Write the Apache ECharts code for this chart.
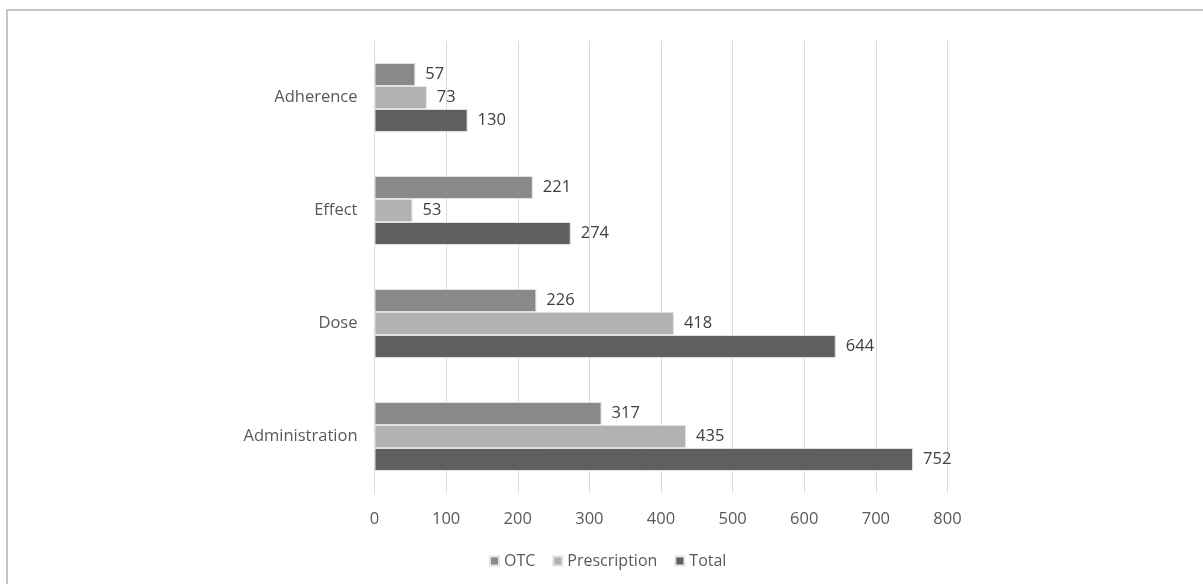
<!DOCTYPE html>
<html>
<head>
<meta charset="utf-8">
<script src="https://cdn.jsdelivr.net/npm/echarts@6/dist/echarts.min.js"></script>
<style>html,body{margin:0;padding:0;background:#fff}#c{width:1203px;height:584px}</style>
</head>
<body>
<div id="c"></div>
<script>
const categories = ['Adherence', 'Effect', 'Dose', 'Administration'];
const otc = [57, 221, 226, 317];
const prescription = [73, 53, 418, 435];
const total = [130, 274, 644, 752];
const xTicks = { min: 0, max: 800, interval: 100 };

const font = 'Open Sans';
const chart = echarts.init(document.getElementById('c'), null, { renderer: 'canvas' });
const label = { show: true, position: 'right', distance: 10, color: '#404040', fontSize: 16.5, fontFamily: font };
const mk = (name, data, color) => ({
  name, type: 'bar', data, barGap: '0%', barCategoryGap: '39%',
  itemStyle: { color, borderColor: '#e2e2e2', borderWidth: 1 },
  label, emphasis: { disabled: true }
});
chart.setOption({
  animation: false,
  textStyle: { fontFamily: font },
  grid: { left: 374.5, right: 255.5, top: 41, bottom: 91, containLabel: false },
  xAxis: {
    type: 'value', min: xTicks.min, max: xTicks.max, interval: xTicks.interval,
    axisLine: { show: false }, axisTick: { show: false },
    splitLine: { show: true, lineStyle: { color: '#d9d9d9', width: 1 } },
    axisLabel: { color: '#595959', fontSize: 16.5, fontFamily: font, margin: 18 }
  },
  yAxis: {
    type: 'category', data: categories, inverse: true,
    axisLine: { show: true, lineStyle: { color: '#d9d9d9' } }, axisTick: { show: false },
    axisLabel: { color: '#595959', fontSize: 16.5, fontFamily: font, margin: 17 }
  },
  legend: {
    data: ['OTC', 'Prescription', 'Total'], top: 548, left: 484,
    itemWidth: 9, itemHeight: 9, itemGap: 17,
    icon: 'rect',
    textStyle: { color: '#595959', fontSize: 16, fontFamily: font }
  },
  graphic: [
    { type: 'line', shape: { x1: 6, y1: 10, x2: 1203, y2: 10 }, style: { stroke: '#c4c4c4', lineWidth: 2 }, silent: true },
    { type: 'line', shape: { x1: 7, y1: 9, x2: 7, y2: 584 }, style: { stroke: '#c4c4c4', lineWidth: 2 }, silent: true }
  ],
  series: [
    mk('OTC', otc, '#898989'),
    mk('Prescription', prescription, '#b2b2b2'),
    mk('Total', total, '#5f5f5f')
  ]
});
</script>
</body>
</html>
